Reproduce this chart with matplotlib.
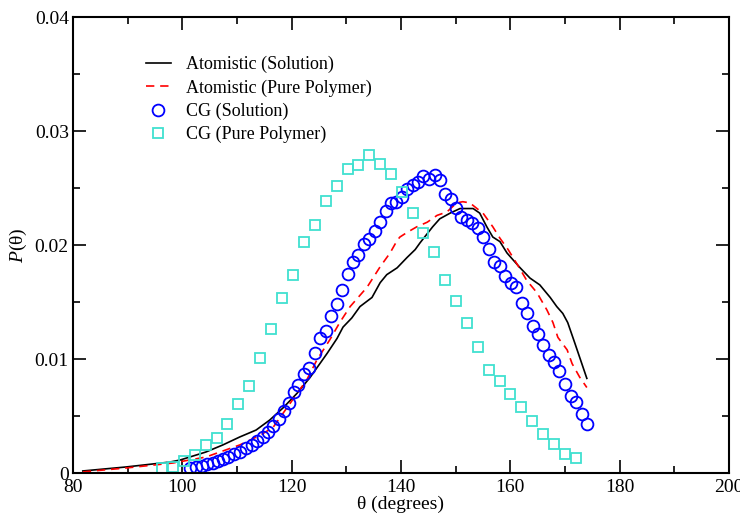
import numpy as np
import matplotlib
matplotlib.use("Agg")
import matplotlib.pyplot as plt
from matplotlib.ticker import MultipleLocator, FuncFormatter

plt.rcParams["font.family"] = ["Liberation Serif", "DejaVu Serif"]
plt.rcParams["mathtext.fontset"] = "custom"
plt.rcParams["mathtext.it"] = "Liberation Serif:italic"
plt.rcParams["mathtext.rm"] = "Liberation Serif"

# Atomistic (Solution) - black solid line
atom_sol_x = [81.8, 89.7, 97.7, 99.6, 104.3, 107.4, 110.5, 113.5, 116.0, 118.4, 121.0,
              123.4, 126.5, 128.3, 129.4, 131.0, 132.5, 134.7, 136.2, 137.4, 139.3, 141.1,
              142.6, 143.5, 145.8, 147.1, 149.0, 150.8, 153.2, 154.4, 155.7, 156.8, 158.1,
              159.4, 160.5, 161.8, 163.6, 165.4, 167.3, 168.5, 169.6, 170.5, 171.8, 174.0]
atom_sol_y = [0.00018, 0.00053, 0.00096, 0.00114, 0.00184, 0.00246, 0.00316, 0.00377,
              0.00465, 0.0057, 0.0070, 0.0084, 0.0105, 0.0118, 0.0128, 0.0136, 0.0146,
              0.0154, 0.0167, 0.0174, 0.0180, 0.0189, 0.0196, 0.0202, 0.0216, 0.0223,
              0.0228, 0.0232, 0.0232, 0.0228, 0.0216, 0.0207, 0.0203, 0.0193, 0.0187,
              0.0180, 0.0171, 0.0165, 0.0154, 0.0146, 0.0140, 0.0132, 0.0114, 0.0083]

# Atomistic (Pure Polymer) - red dashed line
atom_pure_x = [81.8, 89.7, 98.3, 104.3, 110.5, 114.2, 116.6, 119.7, 122.8, 124.6, 127.0,
               128.8, 130.7, 133.8, 136.2, 138.0, 139.3, 139.8, 141.1, 142.9, 144.8, 146.6,
               148.4, 150.2, 151.3, 152.6, 153.9, 155.0, 156.8, 158.1, 159.6, 161.4, 163.0,
               164.9, 166.7, 167.8, 168.7, 170.4, 171.3, 172.7, 174.0]
atom_pure_y = [0.0001, 0.00044, 0.00088, 0.0014, 0.00246, 0.0033, 0.0040, 0.0061, 0.0082,
               0.0099, 0.0117, 0.0132, 0.0146, 0.0163, 0.0181, 0.0193, 0.0204, 0.0207,
               0.0211, 0.0216, 0.0220, 0.0226, 0.0229, 0.0237, 0.0238, 0.0237, 0.0232,
               0.0228, 0.0216, 0.0206, 0.0196, 0.0182, 0.0169, 0.0158, 0.0143, 0.0132,
               0.0119, 0.0108, 0.0096, 0.0084, 0.0075]

# CG (Solution) - blue circles
cg_sol_x = [101.4, 102.5, 103.6, 104.5, 105.6, 106.5, 107.4, 108.4, 109.5, 110.5, 111.6,
            112.7, 113.7, 114.8, 115.7, 116.6, 117.7, 118.6, 119.5, 120.4, 121.2, 122.3,
            123.2, 124.3, 125.2, 126.3, 127.2, 128.3, 129.2, 130.3, 131.2, 132.1, 133.2,
            134.1, 135.2, 136.2, 137.3, 138.2, 139.1, 140.2, 141.1, 142.2, 143.1, 144.0,
            145.1, 146.2, 147.1, 148.0, 149.1, 150.1, 151.0, 152.1, 153.0, 154.1, 155.0,
            156.1, 157.0, 158.1, 159.0, 160.1, 161.0, 162.1, 163.0, 164.1, 165.1, 166.0,
            167.1, 168.0, 168.9, 170.0, 171.1, 172.0, 173.1, 174.0]
cg_sol_y = [0.00044, 0.00053, 0.00061, 0.00079, 0.00088, 0.00105, 0.00123, 0.00140,
            0.00167, 0.00184, 0.00219, 0.00246, 0.00281, 0.00316, 0.00360, 0.00412,
            0.00474, 0.00544, 0.00614, 0.00711, 0.00772, 0.00868, 0.00921, 0.01053,
            0.01184, 0.01246, 0.01377, 0.01482, 0.01605, 0.01746, 0.01851, 0.01912,
            0.02009, 0.02053, 0.02123, 0.02202, 0.02298, 0.02368, 0.02377, 0.02421,
            0.02491, 0.02526, 0.02553, 0.02605, 0.02579, 0.02614, 0.02570, 0.02447,
            0.02404, 0.02325, 0.02246, 0.02219, 0.02193, 0.02149, 0.02070, 0.01965,
            0.01851, 0.01816, 0.01728, 0.01667, 0.01632, 0.01491, 0.01404, 0.01289,
            0.01219, 0.01123, 0.01035, 0.00974, 0.00895, 0.00781, 0.00675, 0.00623,
            0.00518, 0.00430]

# CG (Pure Polymer) - turquoise squares
cg_pure_x = [96.3, 98.3, 100.3, 102.3, 104.3, 106.3, 108.2, 110.2, 112.2, 114.2, 116.2,
             118.2, 120.2, 122.3, 124.3, 126.3, 128.3, 130.3, 132.1, 134.1, 136.2, 138.2,
             140.2, 142.2, 144.0, 146.0, 148.0, 150.1, 152.1, 154.1, 156.1, 158.1, 159.9,
             161.9, 164.0, 166.0, 168.0, 170.0, 172.0]
cg_pure_y = [0.00044, 0.00053, 0.00105, 0.00158, 0.00246, 0.00307, 0.00430, 0.00605,
             0.00763, 0.01009, 0.01263, 0.01535, 0.01737, 0.02026, 0.02175, 0.02386,
             0.02518, 0.02667, 0.02702, 0.02789, 0.02711, 0.02623, 0.02465, 0.02281,
             0.02105, 0.01939, 0.01693, 0.01509, 0.01316, 0.01105, 0.00904, 0.00807,
             0.00693, 0.00579, 0.00456, 0.00342, 0.00254, 0.00167, 0.00132]

fig = plt.figure(figsize=(7.4, 5.16), dpi=100)
ax = fig.add_axes([0.0986, 0.0833, 0.8865, 0.8837])

ax.plot(atom_sol_x, atom_sol_y, color="black", lw=1.2, label="Atomistic (Solution)")
ax.plot(atom_pure_x, atom_pure_y, color="red", lw=1.2, ls=(0, (5, 3.5)),
        label="Atomistic (Pure Polymer)")
ax.plot(cg_sol_x, cg_sol_y, ls="none", marker="o", ms=8.5, mfc="none", mec="#0000ff",
        mew=1.3, label="CG (Solution)")
ax.plot(cg_pure_x, cg_pure_y, ls="none", marker="s", ms=6.5, mfc="none", mec="#40e0d0",
        mew=1.3, label="CG (Pure Polymer)")

ax.set_xlim(80, 200)
ax.set_ylim(0, 0.04)
ax.xaxis.set_major_locator(MultipleLocator(20))
ax.xaxis.set_minor_locator(MultipleLocator(10))
ax.yaxis.set_major_locator(MultipleLocator(0.01))
ax.yaxis.set_minor_locator(MultipleLocator(0.005))
ax.yaxis.set_major_formatter(FuncFormatter(lambda v, p: "0" if abs(v) < 1e-9 else f"{v:.2f}"))
ax.tick_params(which="both", direction="in", top=True, right=True, labelsize=14, width=1.2)
ax.tick_params(which="major", length=9.5, pad=4)
ax.tick_params(axis="y", which="major", pad=3)
ax.tick_params(which="minor", length=5)
for s in ax.spines.values():
    s.set_linewidth(1.5)

ax.set_xlabel("θ (degrees)", fontsize=14, labelpad=0)
ax.set_ylabel("$P$(θ)", fontsize=14, labelpad=4)

ax.legend(loc="upper left", bbox_to_anchor=(0.10, 0.93), frameon=False, fontsize=13,
          handlelength=1.4, handletextpad=0.8, labelspacing=0.33, borderaxespad=0)

fig.savefig("out.png", dpi=100)
